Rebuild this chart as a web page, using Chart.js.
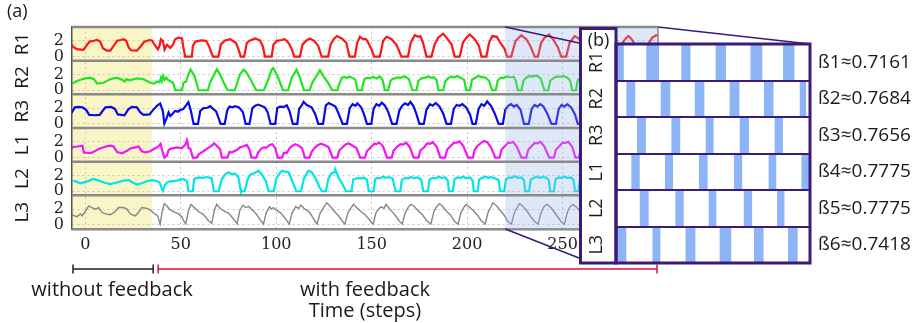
<!DOCTYPE html>
<html>
<head>
<meta charset="utf-8">
<script src="https://cdn.jsdelivr.net/npm/chart.js@4.4.1/dist/chart.umd.min.js"></script>
<style>
  html, body { margin: 0; padding: 0; background: #fff; }
  #wrap { position: relative; width: 919px; height: 323px; }
  #signals { position: absolute; left: 0; top: 0; }
  #phases { position: absolute; left: 579px; top: 25px; }
</style>
</head>
<body>
<div id="wrap">
  <canvas id="signals" width="919" height="323"></canvas>
  <canvas id="phases" width="340" height="242"></canvas>
</div>
<script>
// legs, ticks and labels
const legs = ['R1', 'R2', 'R3', 'L1', 'L2', 'L3'];
const legColors = ['#ff1414', '#1fe61f', '#0a0ae6', '#f514f5', '#00e6e6', '#858585'];
const timeTicks = [0, 50, 100, 150, 200, 250];
const valueTicks = [0, 2];
const betaLabels = ['ß1≈0.7161', 'ß2≈0.7684', 'ß3≈0.7656', 'ß4≈0.7775', 'ß5≈0.7775', 'ß6≈0.7418'];
const feedbackStart = 35;   // feedback switched on here
const zoomStart = 220;      // start of the window shown in (b)
const zoomEnd = 298;

// motor signals, [time step, value]
const r1Trace = [
  [-7.5,1.6],[-6.5,1.25],[-4.5,0.95],[-1,0.85],[0.9,1.5],[2.3,1.9],[4.4,2.0],[6.1,2.1],[7.8,1.9],[9.2,1.05],[11.3,0.75],[13.1,0.75],[14.8,1.35],[16.6,2.0],[18.5,2.1],[20.1,2.2],[21.4,2.0],[22.7,1.15],[23.9,0.8],[27,0.75],[28.8,1.25],[30.9,1.9],[33.6,2.1],[34.9,2.05],
  [36.2,1.5],[38,0.9],[38.8,1.3],[39.6,2.2],[40.6,2.0],[41.5,0.9],[42.7,1.5],[44.5,1.1],[45.9,1.5],[47,2.2],[48.8,2.4],[50.6,2.3],[51.4,1.1],[52.3,0],
  [55.8,0],[56.3,1.35],[57.7,1.9],[60.7,2.05],[63.3,2.0],[64.7,1.35],[66.8,0],
  [69.7,0],[71,1.55],[73.2,2.05],[75.9,2.2],[78.8,1.75],[80.2,0.95],[81.4,0],
  [83.2,0],[84.6,1.75],[86.3,2.05],[88.9,2.3],[91.5,2.05],[92.9,1.35],[94.1,0],
  [97.6,0],[98.5,1.5],[100.2,2.0],[102.9,2.1],[104.3,2.2],[105.5,2.0],[106.9,1.55],[108.1,0.95],[109.5,0],
  [112.4,0],[113.8,1.55],[115.9,2.05],[117.7,2.3],[119.8,2.0],[122,1.35],[123.8,0],
  [127.2,0],[128.5,1.55],[130.1,2.2],[131.8,2.6],[134.3,2.3],[136.7,1.75],[138.4,0],
  [141.2,0],[142.4,1.75],[143.8,2.5],[145.6,2.2],[147,2.2],[148.2,1.75],[149.9,0.95],[151.3,0],
  [154.3,0],[156,2.0],[157.8,2.5],[160.4,2.2],[163,1.5],[165.6,0],
  [169,0],[170.5,1.8],[172.6,2.7],[174.5,2.5],[175.5,2.6],[176.9,1.75],[178.7,0],
  [181.3,0],[183,1.55],[184.8,2.4],[187.4,2.9],[189.2,2.4],[191.8,1.55],[193.5,0],
  [196.1,0],[197.8,1.75],[199.6,2.4],[201.4,2.8],[204,2.2],[206.2,1.35],[207.5,0],
  [210.1,0],[211.5,1.75],[213.2,2.6],[215.6,2.5],[217.4,1.75],[219.7,0.95],[220.9,0],
  [223.1,0],[225.4,2.0],[228.4,2.7],[231,2.2],[233.1,1.35],[235.4,0],
  [237.1,0],[238.8,1.75],[240.6,2.4],[242.9,2.8],[245,2.2],[247.6,1.15],[249.3,0],
  [251.9,0],[253.7,1.75],[256.3,2.6],[258.5,2.3],[260.5,1.6],[262.5,0],
  [265.5,0],[267,1.7],[269,2.4],[271,2.6],[273.5,2.2],[275.5,1.2],[277,0],
  [279.5,0],[281.2,1.65],[282.8,2.2],[284.5,2.6],[286.2,2.2],[287.7,1.6],[289.5,0],
  [292.5,0],[294,1.2],[295,1.65],[297,2.4],[299,2.7],[300.5,2.7]
];
const r2Trace = [
  [-7.5,0.75],[-5,1.1],[-1,1.45],[2.5,1.6],[4.5,1.4],[6.2,0.85],[9.5,0.95],[13,1.4],[16.5,1.6],[19.5,1.3],[20.5,1.1],[21.5,1.4],[23,1.25],[27,1.5],[30.5,1.4],[34,0.95],[36,0.85],
  [37.5,1.1],[38.8,1.0],[39.6,1.6],[40.1,1.2],[40.7,1.8],[41.5,1.3],[42.4,1.6],[43.3,1.3],[44.5,1.15],[45.9,0.95],[46.5,0.5],[47.2,0],
  [50.6,0],[51.4,0.95],[52.8,1.1],[54,2.0],[55.1,2.65],[57.2,1.8],[58.6,0.6],[59.3,0],
  [64.2,0],[65.3,0.95],[67.1,1.8],[68.9,2.65],[70.6,2.0],[72.5,0.95],[74.5,0],
  [78.3,0],[79.5,0.9],[81,2.0],[82.8,2.6],[84,2.4],[85.5,1.8],[88,0.7],[89.5,0],
  [93.5,0],[95.9,1.4],[97.6,2.6],[98.5,2.8],[101,1.6],[103.5,0],
  [106.2,0],[108.1,1.6],[110.7,2.6],[112.4,1.6],[114.5,0],
  [117.5,0],[119,1.0],[120.3,1.5],[122.9,2.55],[124.7,1.8],[127.5,0.8],[129.3,0],
  [132,0],[133,0.7],[134.3,1.6],[136,1.7],[137,1.55],[138.5,1.75],[139.6,1.6],[141.4,1.35],[142.6,0],
  [144.8,0],[145.6,0.9],[146.3,1.45],[148,1.6],[149.2,1.5],[150.8,1.7],[152.5,1.5],[154.3,1.75],[155.7,1.3],[156.9,0],
  [158.6,0],[159.9,1.2],[161,1.45],[162.2,1.5],[163.5,1.65],[164.8,1.55],[166,1.7],[167.5,1.75],[169.5,1.4],[171.3,0],
  [173.5,0],[174.5,1.2],[176,1.5],[178,1.6],[179.5,1.75],[181,1.6],[182.5,1.65],[184,1.3],[185,0],
  [187.5,0],[188.5,1.1],[190,1.5],[191.5,1.75],[193,1.6],[194.5,1.8],[196.5,1.6],[198.5,1.3],[199.5,0],
  [201.5,0],[202.5,1.3],[204,1.55],[206,1.8],[207.5,1.7],[209.5,1.6],[211.5,1.2],[213,0],
  [215,0],[216,1.2],[217.5,1.6],[219,1.55],[220.5,1.75],[222.5,1.65],[224.5,1.7],[225.5,1.2],[226.5,0],
  [228.5,0],[229.5,1.2],[231,1.6],[232.5,1.8],[234.5,1.75],[236.5,1.85],[238.5,1.5],[240.5,0],
  [242.5,0],[243.5,1.2],[245,1.5],[247,1.75],[248.5,1.7],[250.5,1.8],[252.5,1.6],[254,1.2],[255,0],
  [257,0],[258,1.3],[259.5,1.6],[261,1.7]
];
const r3Trace = [
  [-7.5,1.3],[-5.5,2.1],[-3.5,2.15],[-1.5,2.1],[0.5,1.75],[2,1.15],[5,1.1],[7.5,1.15],[9.2,1.7],[10.5,2.1],[13.5,2.15],[15.5,1.9],[17,1.2],[20.5,1.1],[22.5,1.85],[24.4,2.15],[27,2.1],[28.8,1.45],[30.5,1.15],[33.6,1.2],[35.4,1.75],
  [37.5,2.3],[39.2,2.6],[40.6,1.6],[41.4,0.05],[42.7,0.8],[43.6,1.45],[44.5,1.0],[45.7,1.3],[47,1.65],[48.5,1.55],[49.7,1.75],[51.4,1.9],[53.2,2.5],[54,2.75],[55.3,1.65],[56.7,0],
  [59,0],[60.2,1.65],[61.9,2.0],[64,2.05],[65.4,2.25],[66.5,2.0],[68.5,1.6],[70,0.6],[70.8,0],
  [73,0],[74.3,1.7],[75.5,2.2],[77,2.1],[78.5,2.25],[80.5,2.1],[82.5,1.5],[84,0],
  [86,0],[87.5,2.0],[89,2.3],[90.5,2.45],[92,2.3],[94,2.1],[95.5,1.5],[97,0],
  [99.5,0],[100.5,2.0],[102,2.2],[104,2.15],[105.5,2.35],[107,1.6],[108.7,0],
  [111,0],[112,1.9],[113.5,2.4],[114.3,2.8],[116,2.4],[118.5,2.1],[120.5,1.2],[122,0],
  [124.5,0],[126,2.35],[127.5,2.65],[129,2.45],[131,2.2],[132.5,1.4],[134.8,0],
  [137,0],[138.5,2.0],[140,2.5],[141.5,2.3],[142.5,2.6],[144.5,2.1],[146,1.2],[147.5,0],
  [149.8,0],[151,1.9],[152.5,2.5],[154,2.3],[155.3,2.7],[157,2.3],[158.7,1.5],[160.7,0],
  [163,0],[164.5,1.7],[166,2.3],[167.5,2.6],[169,2.4],[170.3,2.8],[172,2.2],[173.5,1.2],[175,0],
  [177.3,0],[178.7,1.8],[180.5,2.5],[182,2.3],[183.5,2.65],[185.5,2.2],[187.5,1.3],[189.2,0],
  [191.5,0],[193,1.9],[194.5,2.4],[196,2.3],[197.5,2.5],[199.5,2.1],[201.5,1.2],[202.8,0],
  [204.5,0],[206,1.9],[207.5,2.5],[209,2.3],[210.5,2.85],[212.5,2.3],[214.5,1.3],[216.5,0],
  [218.7,0],[220,1.8],[221.5,2.3],[223,2.5],[224.5,2.2],[226,2.4],[228,1.8],[229.8,0],
  [232.3,0],[233.8,1.9],[235.3,2.4],[236.8,2.2],[238.3,2.5],[240,2.2],[242,1.3],[244.2,0],
  [246.5,0],[248,1.9],[249.5,2.4],[251,2.2],[252.5,2.5],[254.5,2.1],[256.5,1.2],[258,0],
  [260,0],[261.5,1.8],[263,2.4]
];
const l1Trace = [
  [-7.5,1.0],[-6.5,1.35],[-4,1.4],[-1.5,1.5],[-0.8,0.65],[2.6,0.55],[4.4,0.75],[7,1.1],[9.6,1.3],[11.5,1.45],[13.1,1.5],[14.8,1.4],[16.6,0.7],[19.2,0.55],[21.8,0.85],[23.5,1.15],[26.1,1.3],[27.9,1.4],[29.6,0.8],[31.4,0.65],[34,0.8],[35.9,1.1],
  [38,1.35],[39.4,1.75],[40.3,0.85],[41.4,0],[42.7,0.25],[43.6,0.95],[44.5,1.1],[46.2,1.2],[47.9,1.3],[50.6,1.2],[52.3,1.6],[53.2,2.2],[54.1,1.2],[55,1.1],[56.3,0],
  [58.4,0],[59.5,0.45],[61.9,0.8],[63.6,1.1],[66.2,1.5],[67.5,1.8],[68.8,1.5],[70.6,1.05],[71.5,0],
  [74.3,0],[75.5,0.7],[76.7,0.65],[79.3,0.95],[81.1,1.3],[82.5,1.4],[84.6,1.6],[86,1.0],[87,0],
  [89.5,0],[90.5,0.6],[92,1.1],[93.5,1.3],[95,1.25],[96.5,1.6],[98,1.7],[99.5,1.2],[100.8,0],
  [103,0],[104,0.6],[105.5,0.6],[107,1.2],[108.5,1.5],[110,1.7],[111.5,1.55],[113.5,1.2],[115,0],
  [117.5,0],[118.5,0.7],[120,1.2],[122,1.6],[123.5,1.75],[125.5,1.55],[127.5,1.3],[129.5,0],
  [132,0],[133,0.9],[134.5,1.25],[136.5,1.7],[138,1.8],[140,1.5],[142,1.2],[144,0],
  [146.5,0],[147.5,0.8],[149.5,1.3],[151.5,1.75],[152.5,1.7],[154,1.9],[156,1.4],[158,0],
  [160.5,0],[161.5,0.9],[163.5,1.4],[165,1.7],[166.5,1.65],[168,1.9],[170,1.3],[172,0],
  [174.5,0],[175.5,0.9],[177.5,1.3],[179,1.8],[180.5,1.75],[182,1.95],[184,1.4],[186,0],
  [188.5,0],[189.5,1.0],[191.5,1.5],[193,1.85],[194.5,1.9],[196,2.05],[198,1.45],[200.5,0],
  [203,0],[204,1.0],[205.5,1.5],[207.5,1.9],[209,2.1],[210.5,1.95],[212.5,1.3],[214.8,0],
  [217,0],[218,1.0],[220,1.5],[221.5,1.9],[222.8,1.85],[224,2.0],[226,1.4],[228.5,0],
  [231,0],[232,1.0],[234,1.5],[235.5,1.85],[237,1.8],[238.5,2.0],[240.5,1.4],[243,0],
  [245.5,0],[246.5,1.0],[248.5,1.5],[250,1.9],[251.5,1.85],[253,2.0],[255,1.4],[256.8,0],
  [258.5,0],[259.5,1.0],[261.5,1.5]
];
const l2Trace = [
  [-7.5,1.35],[-5,1.25],[-2.6,1.0],[1,1.25],[4.4,1.55],[7,1.35],[9.6,1.1],[13.1,0.9],[16.5,1.1],[20.1,1.35],[22.7,1.4],[24.5,1.15],[27,0.85],[30,1.05],[32.5,1.3],[34.9,1.4],
  [36.5,1.35],[38.9,1.1],[40.1,0.3],[40.6,0.05],[41.5,0.7],[42.7,1.1],[44.5,1.25],[47.9,1.35],[51.4,1.55],[53.2,1.25],[54,0],
  [56.3,0],[57,1.55],[59.3,1.75],[61.5,1.7],[63.6,1.8],[66.2,1.65],[67.3,0],
  [69.8,0],[71.5,1.55],[73.2,2.15],[75,2.4],[76.7,2.15],[78.5,2.25],[80.2,1.75],[81.2,0.3],[81.5,0],
  [83.5,0],[85,1.5],[86.5,2.1],[88.5,2.3],[90.7,2.6],[92.5,2.1],[94.5,1.3],[96,0],
  [98.7,0],[100,1.6],[101.5,2.2],[103,2.6],[104.5,2.5],[106.5,2.4],[108.5,1.2],[110.5,0],
  [113,0],[114.5,1.6],[116.8,2.6],[118.5,2.45],[120.5,1.7],[122.5,0.6],[123.8,0],
  [126,0],[127.3,1.6],[129,2.3],[130.5,2.4],[130.9,2.8],[132.5,1.8],[134.5,1.0],[136.5,0],
  [139.5,0],[140.3,1.5],[141.5,1.55],[143,1.7],[144.5,1.6],[146,1.75],[147.5,1.45],[148.5,0],
  [151,0],[151.8,1.5],[153,1.7],[154.5,1.65],[156,1.85],[157.5,1.7],[159,1.8],[161,1.6],[162.5,0],
  [165,0],[165.8,1.45],[167.5,1.7],[169,1.6],[170.5,1.8],[172,1.65],[174,1.75],[176,1.5],[177,0],
  [179.5,0],[180.3,1.5],[182,1.7],[183.5,1.6],[185,1.85],[186.5,1.7],[188.5,1.75],[189.8,1.4],[190.5,0],
  [192.5,0],[193.3,1.5],[195,1.75],[196.5,1.7],[198,1.85],[199.5,1.65],[201.5,1.75],[202.8,1.4],[203.5,0],
  [205.5,0],[206.3,1.5],[208,1.7],[209.5,1.85],[211,1.7],[212.5,1.8],[214.5,1.65],[216.5,1.4],[217.3,0],
  [219.5,0],[220.3,1.5],[222,1.75],[223.5,1.7],[225,1.9],[226.5,1.7],[228.5,1.75],[229.8,1.4],[230.5,0],
  [232.5,0],[233.3,1.5],[235,1.7],[236.5,1.85],[238,1.7],[239.5,1.8],[241.5,1.7],[242.8,1.4],[243.5,0],
  [245.5,0],[246.3,1.5],[248,1.75],[249.5,1.7],[251,1.85],[252.5,1.7],[254.5,1.75],[255.8,1.4],[256.5,0],
  [258.3,0],[259,1.5],[261,1.7]
];
const l3Trace = [
  [-7.5,1.6],[-6.5,1.2],[-4.3,1.05],[-2.6,1.4],[-1.7,1.15],[0,1.7],[1.7,2.4],[3.4,2.2],[5.2,2.0],[7,2.2],[8.7,1.6],[10.5,1.4],[13.1,1.3],[15.7,1.7],[17.4,2.2],[20,2.2],[21.8,2.0],[23.5,1.4],[26.1,1.15],[27.9,1.6],[29.6,2.2],[32.2,2.1],[34,1.9],
  [35.7,1.5],[37.9,1.15],[39.2,0.1],[40.3,1.8],[41.4,2.7],[42.7,2.4],[44.5,1.9],[47,1.6],[48.8,1.4],[50.6,1.0],[51.4,0.55],[52.6,0.15],
  [54,1.8],[55.3,2.6],[56.6,2.3],[59.2,1.7],[61.9,1.3],[64.4,0.55],[66.2,0.2],
  [67.5,1.8],[68.8,2.6],[70.6,2.1],[73,1.7],[75,1.5],[77.6,0.75],[79.5,0.15],
  [81,1.9],[82.5,2.5],[84,2.2],[85.5,2.35],[87.5,1.9],[89.5,1.4],[91.5,0.7],[93.3,0.1],
  [94.8,1.6],[96.5,2.3],[97.5,2.0],[98.5,2.2],[100.5,1.8],[102.5,1.5],[104.5,0.9],[106.8,0.1],
  [108.3,1.5],[110.2,2.3],[111.8,2.1],[113,2.5],[115,2.0],[117.5,1.6],[119.5,0.8],[121.4,0.1],
  [123,1.5],[124.5,2.1],[126.5,2.8],[128.5,2.3],[130.5,1.7],[132.5,1.2],[134.5,0.5],[136,0.1],
  [137.5,1.5],[139,2.1],[140.5,2.6],[142,2.2],[144,1.8],[146.5,1.3],[149,0.6],[150.8,0.1],
  [152.3,1.6],[154,2.1],[155,2.3],[156.5,2.1],[157.5,2.6],[159.5,2.0],[162,1.3],[164.5,0.5],[166,0.1],
  [167.5,1.5],[169,2.2],[170.5,2.6],[172,2.4],[174,1.9],[176.5,1.3],[179,0.5],[181,0.1],
  [182.5,1.6],[184,2.3],[185.5,2.7],[187,2.4],[189,1.8],[191.5,1.2],[193.5,0.4],[195.3,0.1],
  [196.8,1.6],[198.5,2.3],[199.5,2.6],[201,2.3],[203,1.9],[205.5,1.2],[207.5,0.5],[209.5,0.1],
  [211,1.6],[212.5,2.3],[213.5,2.8],[215.5,2.4],[217.5,1.8],[219.5,1.2],[221.5,0.4],[223.2,0.1],
  [224.8,1.6],[226.5,2.3],[227.5,2.7],[229.5,2.3],[231.5,1.7],[233.5,1.0],[235.5,0.4],[237.2,0.1],
  [238.8,1.6],[240.5,2.4],[241.8,2.6],[243.5,2.3],[245.5,1.7],[247.5,1.0],[249.3,0.4],[251,0.1],
  [252.5,1.6],[254,2.3],[255.5,2.6],[257.5,2.2],[259.5,1.6],[261.5,1.0]
];

// stance intervals in the zoomed window, [from, to] in time steps
const r1Stance = [[220.3,223],[232.3,237.2],[246.4,249.8],[260.2,264.1],[274.2,278.7],[287.3,291.6]];
const r2Stance = [[224.3,227.6],[238.1,241.7],[251.8,255.4],[265.8,269.5],[279.6,283.2],[294,296.3]];
const r3Stance = [[228.6,231.9],[242.4,245.7],[256.2,259.1],[269.9,273.3],[283.9,287]];
const l1Stance = [[226.3,229.4],[239.8,242.8],[253.5,256.7],[267.6,270.6],[281.5,284.3],[294.7,297.7]];
const l2Stance = [[229.7,233],[244,247.1],[257.4,260.2],[271.5,274.6],[284.9,287.6]];
const l3Stance = [[220.5,224],[234.8,237.7],[248.1,251.8],[261.8,266.2],[275.6,279.2],[289.3,292.9]];

const traces = [r1Trace, r2Trace, r3Trace, l1Trace, l2Trace, l3Trace];
const stances = [r1Stance, r2Stance, r3Stance, l1Stance, l2Stance, l3Stance];

const inset = { left: 579, top: 25 };
const purple = '#3c1a78';
const textColor = '#1a1a1a';

Chart.defaults.font.family = 'Open Sans';
Chart.defaults.color = textColor;

// ---------- (a) time series ----------
const signalFrame = {
  id: 'signalFrame',
  beforeDraw(chart) {
    const { ctx, chartArea: a, scales: { x } } = chart;
    ctx.save();
    ctx.fillStyle = '#faf5c6';
    ctx.fillRect(a.left, a.top, x.getPixelForValue(feedbackStart) - a.left, a.bottom - a.top);
    ctx.restore();
  },
  afterDatasetsDraw(chart) {
    const { ctx, chartArea: a, scales } = chart;
    const zx = scales.x.getPixelForValue(zoomStart);
    ctx.save();
    ctx.fillStyle = 'rgba(150, 180, 235, 0.3)';
    ctx.fillRect(zx, a.top, a.right - zx, a.bottom - a.top);
    ctx.strokeStyle = '#8a8a8a';
    ctx.lineWidth = 2.5;
    ctx.beginPath();
    legs.forEach(leg => {
      const s = scales['y' + leg];
      ctx.moveTo(a.left, s.top);
      ctx.lineTo(a.right, s.top);
    });
    ctx.stroke();
    ctx.lineWidth = 1.5;
    ctx.beginPath();
    ctx.moveTo(a.right, a.top);
    ctx.lineTo(a.right, a.bottom);
    ctx.stroke();
    ctx.restore();
  },
  afterDraw(chart) {
    const { ctx, chartArea: a, scales: { x } } = chart;
    const split = x.getPixelForValue(feedbackStart);
    const zx = x.getPixelForValue(zoomStart);
    const yb = 269;
    ctx.save();

    // zoom connectors towards panel (b)
    ctx.strokeStyle = purple;
    ctx.lineWidth = 1.5;
    ctx.beginPath();
    ctx.moveTo(zx, a.top); ctx.lineTo(inset.left, inset.top + 18);
    ctx.moveTo(zx, a.bottom); ctx.lineTo(inset.left, inset.top + 233);
    ctx.moveTo(a.right, a.top); ctx.lineTo(inset.left + 231, inset.top + 19);
    ctx.stroke();

    // phase brackets
    const bracket = (x0, x1, color) => {
      ctx.strokeStyle = color;
      ctx.lineWidth = 1.5;
      ctx.beginPath();
      ctx.moveTo(x0, yb); ctx.lineTo(x1, yb);
      ctx.moveTo(x0, yb - 4.5); ctx.lineTo(x0, yb + 4.5);
      ctx.moveTo(x1, yb - 4.5); ctx.lineTo(x1, yb + 4.5);
      ctx.stroke();
    };
    bracket(a.left + 1, split + 1, '#222222');
    bracket(split + 6, a.right - 1, '#d8133a');

    ctx.fillStyle = textColor;
    ctx.font = '20px "Open Sans"';
    ctx.textAlign = 'center';
    ctx.textBaseline = 'middle';
    ctx.fillText('without feedback', (a.left + split) / 2, 290);
    ctx.fillText('with feedback', (a.left + a.right) / 2, 290);

    ctx.font = '18px "Open Sans"';
    ctx.textAlign = 'left';
    ctx.textBaseline = 'top';
    ctx.fillText('(a)', 7, 3);
    ctx.restore();
  }
};

const legScale = (leg, i) => ({
  type: 'linear',
  position: 'left',
  stack: 'legs',
  weight: legs.length - i,
  min: -0.52,
  max: 3.75,
  afterBuildTicks: s => { s.ticks = valueTicks.map(v => ({ value: v })); },
  afterFit: s => { s.width = 72; s.paddingTop = 0; s.paddingBottom = 0; },
  grid: { color: '#c6c6c6', drawTicks: false },
  border: { color: '#555555', width: 1.5, dash: [2, 3] },
  ticks: { padding: 8, color: '#222', font: { family: 'DejaVu Serif', size: 16 } },
  title: {
    display: true, text: leg, color: textColor,
    font: { family: 'Open Sans', size: 19 },
    padding: { top: 11, bottom: 0 }
  }
});

const signalScales = {
  x: {
    type: 'linear',
    min: -7,
    max: 300,
    afterBuildTicks: s => { s.ticks = timeTicks.map(v => ({ value: v })); },
    afterFit: s => { s.height = 94; s.paddingLeft = 0; s.paddingRight = 0; },
    grid: { color: '#c6c6c6', drawTicks: false },
    border: { color: '#8a8a8a', width: 2.5, dash: [2, 3] },
    ticks: { padding: 6, maxRotation: 0, color: '#222', font: { family: 'DejaVu Serif', size: 16 } },
    title: {
      display: true, text: 'Time (steps)', color: textColor,
      font: { family: 'Open Sans', size: 20 },
      padding: { top: 0, bottom: 0 }
    }
  }
};
legs.forEach((leg, i) => { signalScales['y' + leg] = legScale(leg, i); });

new Chart(document.getElementById('signals'), {
  type: 'line',
  data: {
    datasets: legs.map((leg, i) => ({
      label: leg,
      data: traces[i].map(([t, v]) => ({ x: t, y: v })),
      xAxisID: 'x',
      yAxisID: 'y' + leg,
      borderColor: legColors[i],
      borderWidth: i === 5 ? 1.4 : 2.2,
      pointRadius: 0,
      tension: 0
    }))
  },
  options: {
    responsive: false,
    animation: false,
    layout: { padding: { top: 27, right: 261, bottom: 0, left: 0 } },
    plugins: { legend: { display: false }, tooltip: { enabled: false } },
    scales: signalScales
  },
  plugins: [signalFrame]
});

// ---------- (b) stance phases ----------
const phaseFrame = {
  id: 'phaseFrame',
  beforeDraw(chart) {
    const { ctx, chartArea: a } = chart;
    ctx.save();
    ctx.fillStyle = '#ffffff';
    ctx.fillRect(0, 2, a.left, a.bottom - 2);
    ctx.fillRect(a.left, a.top, a.right - a.left, a.bottom - a.top);
    ctx.restore();
  },
  afterDraw(chart) {
    const { ctx, chartArea: a } = chart;
    ctx.save();
    ctx.strokeStyle = purple;
    ctx.lineWidth = 3;
    ctx.strokeRect(1.5, 3.5, a.left - 1.5, a.bottom - 3.5);
    ctx.strokeRect(a.left, a.top, a.right - a.left, a.bottom - a.top);
    ctx.fillStyle = textColor;
    ctx.font = '18px "Open Sans"';
    ctx.textAlign = 'center';
    ctx.textBaseline = 'middle';
    ctx.fillText('(b)', a.left / 2 + 1, 16);
    ctx.restore();
  }
};

new Chart(document.getElementById('phases'), {
  type: 'bar',
  data: {
    datasets: [{
      data: legs.flatMap((leg, i) => stances[i].map(([from, to]) => ({ y: leg, x: [from, to] }))),
      xAxisID: 'x',
      yAxisID: 'y',
      backgroundColor: '#8cb4f7',
      borderWidth: 0,
      barPercentage: 1,
      categoryPercentage: 1
    }]
  },
  options: {
    indexAxis: 'y',
    responsive: false,
    animation: false,
    layout: { padding: { top: 19, right: 0, bottom: 4, left: 0 } },
    plugins: { legend: { display: false }, tooltip: { enabled: false } },
    scales: {
      x: { type: 'linear', min: zoomStart, max: zoomEnd, display: false },
      y: {
        type: 'category',
        labels: legs,
        offset: true,
        afterFit: s => { s.width = 37; s.paddingTop = 0; s.paddingBottom = 0; },
        grid: { offset: true, color: purple, lineWidth: 2, drawTicks: false, z: 1 },
        border: { display: false },
        ticks: {
          minRotation: 90, maxRotation: 90, crossAlign: 'center', padding: 8,
          color: textColor, font: { family: 'Open Sans', size: 18 }
        }
      },
      beta: {
        type: 'category',
        position: 'right',
        labels: betaLabels,
        offset: true,
        afterFit: s => { s.width = 109; s.paddingTop = 0; s.paddingBottom = 0; },
        grid: { display: false },
        border: { display: false },
        ticks: { padding: 0, color: textColor, font: { family: 'Open Sans', size: 19 } }
      }
    }
  },
  plugins: [phaseFrame]
});
</script>
</body>
</html>
